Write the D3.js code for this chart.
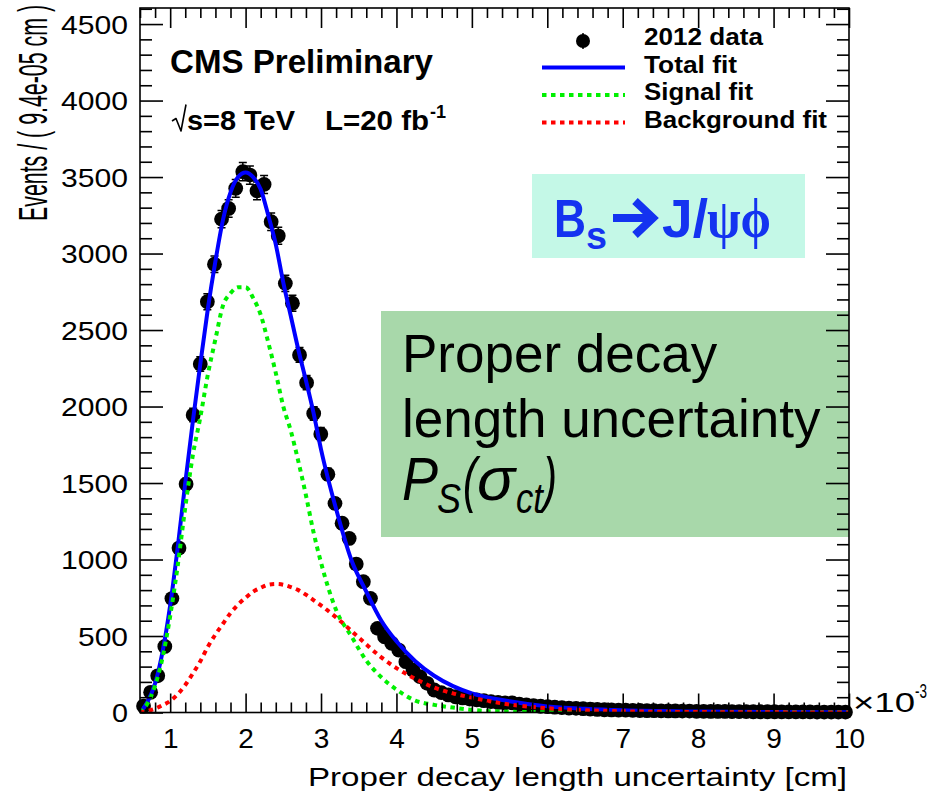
<!DOCTYPE html>
<html>
<head>
<meta charset="utf-8">
<script src="https://cdn.jsdelivr.net/npm/d3@7"></script>
<style>
  body { margin: 0; background: #fff; }
  svg { display: block; }
</style>
</head>
<body>
<svg id="chart" width="928" height="799"></svg>
<script>
// Proper decay length uncertainty, Bs -> J/psi phi, 2012 data with fit components.
// x values are in units of 1e-3 cm; histogram has 100 bins of 9.4e-05 cm.
const binLo = 0.6;
const binWidth = 0.094;
const dataCounts = [
  42, 132, 240, 432, 745, 1075, 1493, 1944, 2278, 2685,
  2930, 3225, 3295, 3426, 3535, 3513, 3410, 3452, 3208, 3116,
  2805, 2675, 2337, 2156, 1955, 1820, 1557, 1367, 1237, 1138,
  970, 855, 746, 550, 495, 452, 408, 332, 278, 234,
  191, 147, 130, 115, 103, 95, 88, 82, 77, 71,
  66, 62, 63, 54, 49, 45, 41, 38, 35, 32,
  29, 27, 25, 22, 20, 18, 17, 16, 15, 14,
  13, 12, 12, 11, 10, 10, 9, 9, 8, 8,
  7, 7, 7, 6, 6, 6, 5, 5, 5, 5,
  4, 4, 4, 4, 4, 3, 3, 3, 3, 3
];

// Fit curves sampled along x
const fitX = [0.6, 0.7, 0.8, 0.9, 1.0, 1.1, 1.2, 1.3, 1.4, 1.5, 1.6, 1.7, 1.8, 1.9, 2.0,
  2.1, 2.2, 2.3, 2.4, 2.5, 2.6, 2.7, 2.8, 2.9, 3.0, 3.2, 3.4, 3.6, 3.8, 4.0,
  4.25, 4.5, 4.75, 5.0, 5.5, 6.0, 6.5, 7.0, 8.0, 9.0, 10.0];
const totalFit = [0, 70, 190, 400, 700, 1080, 1500, 1900, 2280, 2640, 2950, 3220, 3400, 3500, 3530,
  3500, 3420, 3250, 3060, 2810, 2590, 2370, 2170, 1960, 1720, 1330, 1000, 790, 600, 465,
  335, 240, 172, 125, 74, 40, 24, 14, 6, 3, 1];
const signalFit = [0, 60, 175, 360, 630, 960, 1340, 1680, 1930, 2210, 2440, 2660, 2740, 2780, 2780,
  2710, 2600, 2420, 2220, 2000, 1840, 1640, 1420, 1180, 980, 670, 500, 340, 230, 150,
  78, 50, 32, 17, 5, 2, 1, 0, 0, 0, 0];
const backgroundFit = [0, 10, 25, 48, 75, 120, 180, 255, 335, 430, 510, 580, 650, 705, 750,
  790, 815, 835, 840, 835, 820, 800, 770, 735, 700, 622, 535, 445, 360, 290,
  220, 163, 125, 97, 52, 28, 15, 8, 3, 1, 0];

const xTicks = [1, 2, 3, 4, 5, 6, 7, 8, 9, 10];
const yTicks = [0, 500, 1000, 1500, 2000, 2500, 3000, 3500, 4000, 4500];
const legendLabels = ["2012 data", "Total fit", "Signal fit", "Background fit"];

const FONT = "'Liberation Sans', Arial, Helvetica, sans-serif";
const svg = d3.select("#chart");
const frame = { left: 140, right: 849, top: 8, bottom: 712.5 };

const x = d3.scaleLinear().domain([binLo, binLo + dataCounts.length * binWidth]).range([frame.left, frame.right]);
const y = d3.scaleLinear().domain([0, 4605]).range([frame.bottom, frame.top]);

function label(parent, px, py, str, o) {
  const t = parent.append("text")
    .attr("x", px).attr("y", py)
    .attr("font-family", o.family || FONT)
    .attr("font-size", o.size)
    .attr("font-weight", o.weight || "normal")
    .attr("font-style", o.style || "normal")
    .attr("fill", o.fill || "#000")
    .text(str);
  if (o.width) t.attr("textLength", o.width).attr("lengthAdjust", "spacingAndGlyphs");
  if (o.anchor) t.attr("text-anchor", o.anchor);
  return t;
}

// ---- annotation boxes ----
svg.append("rect").attr("x", 532).attr("y", 174).attr("width", 273).attr("height", 84).attr("fill", "#c4f8e7");
svg.append("rect").attr("x", 381).attr("y", 311).attr("width", frame.right - 381).attr("height", 226).attr("fill", "#a8d8aa");

// ---- data points with error bars ----
svg.append("clipPath").attr("id", "frameClip").append("rect")
  .attr("x", frame.left).attr("y", frame.top)
  .attr("width", frame.right - frame.left).attr("height", frame.bottom - frame.top);

const bins = dataCounts.map((n, i) => ({ xc: binLo + (i + 0.5) * binWidth, n }));
const gData = svg.append("g");
gData.selectAll("line.err").data(bins).join("line")
  .attr("class", "err")
  .attr("x1", d => x(d.xc)).attr("x2", d => x(d.xc))
  .attr("y1", d => y(d.n + Math.sqrt(d.n))).attr("y2", d => y(Math.max(0, d.n - Math.sqrt(d.n))))
  .attr("stroke", "#000").attr("stroke-width", 1.5);
gData.selectAll("path.cap").data(bins).join("path")
  .attr("class", "cap")
  .attr("d", d => {
    const cx = x(d.xc), t = y(d.n + Math.sqrt(d.n)), b = y(Math.max(0, d.n - Math.sqrt(d.n)));
    return `M${cx - 4},${t}H${cx + 4}M${cx - 4},${b}H${cx + 4}`;
  })
  .attr("stroke", "#000").attr("stroke-width", 1.5).attr("fill", "none");
gData.selectAll("circle").data(bins).join("circle")
  .attr("cx", d => x(d.xc)).attr("cy", d => y(d.n)).attr("r", 7.4).attr("fill", "#000");

// ---- fit curves ----
const gFit = svg.append("g").attr("clip-path", "url(#frameClip)");
const line = d3.line().x(d => x(d[0])).y(d => y(d[1])).curve(d3.curveMonotoneX);
const curves = [
  { vals: totalFit, color: "#0000ff", dash: null, w: 4 },
  { vals: signalFit, color: "#00f000", dash: "4.5,4.5", w: 4 },
  { vals: backgroundFit, color: "#ff0000", dash: "4.5,4.5", w: 4 }
];
curves.forEach(c => {
  gFit.append("path")
    .attr("d", line(fitX.map((v, i) => [v, c.vals[i]])))
    .attr("fill", "none").attr("stroke", c.color).attr("stroke-width", c.w)
    .attr("stroke-dasharray", c.dash);
});

// ---- frame and axes ----
svg.append("rect").attr("x", frame.left).attr("y", frame.top)
  .attr("width", frame.right - frame.left).attr("height", frame.bottom - frame.top)
  .attr("fill", "none").attr("stroke", "#000").attr("stroke-width", 1.6);

const xMinor = d3.range(3, 50).map(i => i / 5).filter(v => Math.abs(v - Math.round(v)) > 1e-6);
const yMinor = d3.range(0, 4601, 100).filter(v => v % 500 !== 0);

function styleAxis(g) {
  g.select(".domain").remove();
  g.selectAll(".tick line").attr("stroke", "#000").attr("stroke-width", 1.6);
}

// bottom
const gxb = svg.append("g").attr("transform", `translate(0,${frame.bottom})`)
  .call(d3.axisBottom(x).tickValues(xTicks).tickSize(-19).tickSizeOuter(0).tickPadding(0).tickFormat(d3.format("d")));
styleAxis(gxb);
gxb.selectAll(".tick text").attr("y", 35.5).attr("dy", null)
  .attr("font-family", FONT).attr("font-size", 28).attr("fill", "#000");
svg.append("g").attr("transform", `translate(0,${frame.bottom})`)
  .call(d3.axisBottom(x).tickValues(xMinor).tickSize(-10).tickSizeOuter(0).tickFormat(""))
  .call(styleAxis);
// top
svg.append("g").attr("transform", `translate(0,${frame.top})`)
  .call(d3.axisTop(x).tickValues(xTicks).tickSize(-20).tickSizeOuter(0).tickFormat(""))
  .call(styleAxis);
svg.append("g").attr("transform", `translate(0,${frame.top})`)
  .call(d3.axisTop(x).tickValues(xMinor).tickSize(-10).tickSizeOuter(0).tickFormat(""))
  .call(styleAxis);
// left
const gyl = svg.append("g").attr("transform", `translate(${frame.left},0)`)
  .call(d3.axisLeft(y).tickValues(yTicks).tickSize(-23).tickSizeOuter(0).tickPadding(12).tickFormat(d3.format("d")));
styleAxis(gyl);
gyl.selectAll(".tick text").attr("dy", "0.36em")
  .attr("font-family", FONT).attr("font-size", 25).attr("fill", "#000")
  .attr("textLength", d => String(d).length * 17 - 1).attr("lengthAdjust", "spacingAndGlyphs");
svg.append("g").attr("transform", `translate(${frame.left},0)`)
  .call(d3.axisLeft(y).tickValues(yMinor).tickSize(-12).tickSizeOuter(0).tickFormat(""))
  .call(styleAxis);
// right
svg.append("g").attr("transform", `translate(${frame.right},0)`)
  .call(d3.axisRight(y).tickValues(yTicks).tickSize(-23).tickSizeOuter(0).tickFormat(""))
  .call(styleAxis);
svg.append("g").attr("transform", `translate(${frame.right},0)`)
  .call(d3.axisRight(y).tickValues(yMinor).tickSize(-12).tickSizeOuter(0).tickFormat(""))
  .call(styleAxis);

// exponent of x axis
label(svg, 853, 712, "×10", { size: 28, width: 62 });
label(svg, 915, 698, "-3", { size: 20, width: 12 });

// axis titles
label(svg, 308, 786, "Proper decay length uncertainty [cm]", { size: 26, width: 539 });
svg.append("text")
  .attr("transform", "translate(47,221) rotate(-90)")
  .attr("font-family", FONT).attr("font-size", 40)
  .attr("textLength", 216).attr("lengthAdjust", "spacingAndGlyphs")
  .text("Events / ( 9.4e-05 cm )");

// ---- CMS labels ----
label(svg, 170, 73, "CMS Preliminary", { size: 33, weight: "bold", width: 263 });
svg.append("path").attr("d", "M172,121L176,118.5L181,131L186,104.5")
  .attr("fill", "none").attr("stroke", "#000").attr("stroke-width", 1.6).attr("stroke-linejoin", "round");
label(svg, 187, 130, "s=8 TeV", { size: 28, weight: "bold", width: 108 });
label(svg, 325, 130, "L=20 fb", { size: 28, weight: "bold", width: 104 });
label(svg, 430, 118, "-1", { size: 18, weight: "bold" });

// ---- legend ----
const gLeg = svg.append("g");
const legY = [45, 72.5, 100, 127.5];
gLeg.append("line").attr("x1", 583).attr("x2", 583).attr("y1", 33).attr("y2", 49).attr("stroke", "#000").attr("stroke-width", 1.5);
gLeg.append("circle").attr("cx", 583).attr("cy", 41).attr("r", 7).attr("fill", "#000");
curves.forEach((c, i) => {
  gLeg.append("line").attr("x1", 542).attr("x2", 625)
    .attr("y1", legY[i + 1] - 5).attr("y2", legY[i + 1] - 5)
    .attr("stroke", c.color).attr("stroke-width", c.w).attr("stroke-dasharray", c.dash);
});
const legW = [119, 93, 109, 183];
legendLabels.forEach((t, i) => label(gLeg, 644, legY[i], t, { size: 24, weight: "bold", width: legW[i] }));

// ---- decay channel box ----
const BLUE = "#1433f0";
label(svg, 554, 237, "B", { size: 54, weight: "bold", fill: BLUE, width: 32 });
label(svg, 586, 249, "s", { size: 38, weight: "bold", fill: BLUE, width: 21 });
svg.append("path").attr("d", "M613,218H650M635,201L653,218L635,235")
  .attr("fill", "none").attr("stroke", BLUE).attr("stroke-width", 8).attr("stroke-linejoin", "miter");
label(svg, 662, 237, "J/", { size: 54, weight: "bold", fill: BLUE, width: 46 });
label(svg, 707, 237, "ψϕ", { size: 54, weight: "bold", fill: BLUE, family: "'Liberation Serif', serif", width: 64 });

// ---- resolution box text ----
label(svg, 402, 372, "Proper decay", { size: 53 });
label(svg, 402, 437, "length uncertainty", { size: 53 });
label(svg, 402, 500, "P", { size: 62, style: "italic", width: 36 });
label(svg, 437, 513, "S", { size: 42, style: "italic", width: 24 });
label(svg, 463, 500, "(", { size: 62, style: "italic", width: 14 });
label(svg, 477, 500, "σ", { size: 62, style: "italic", width: 38 });
label(svg, 516, 513, "ct", { size: 42, style: "italic", width: 27 });
label(svg, 543, 500, ")", { size: 62, style: "italic", width: 14 });
</script>
</body>
</html>
